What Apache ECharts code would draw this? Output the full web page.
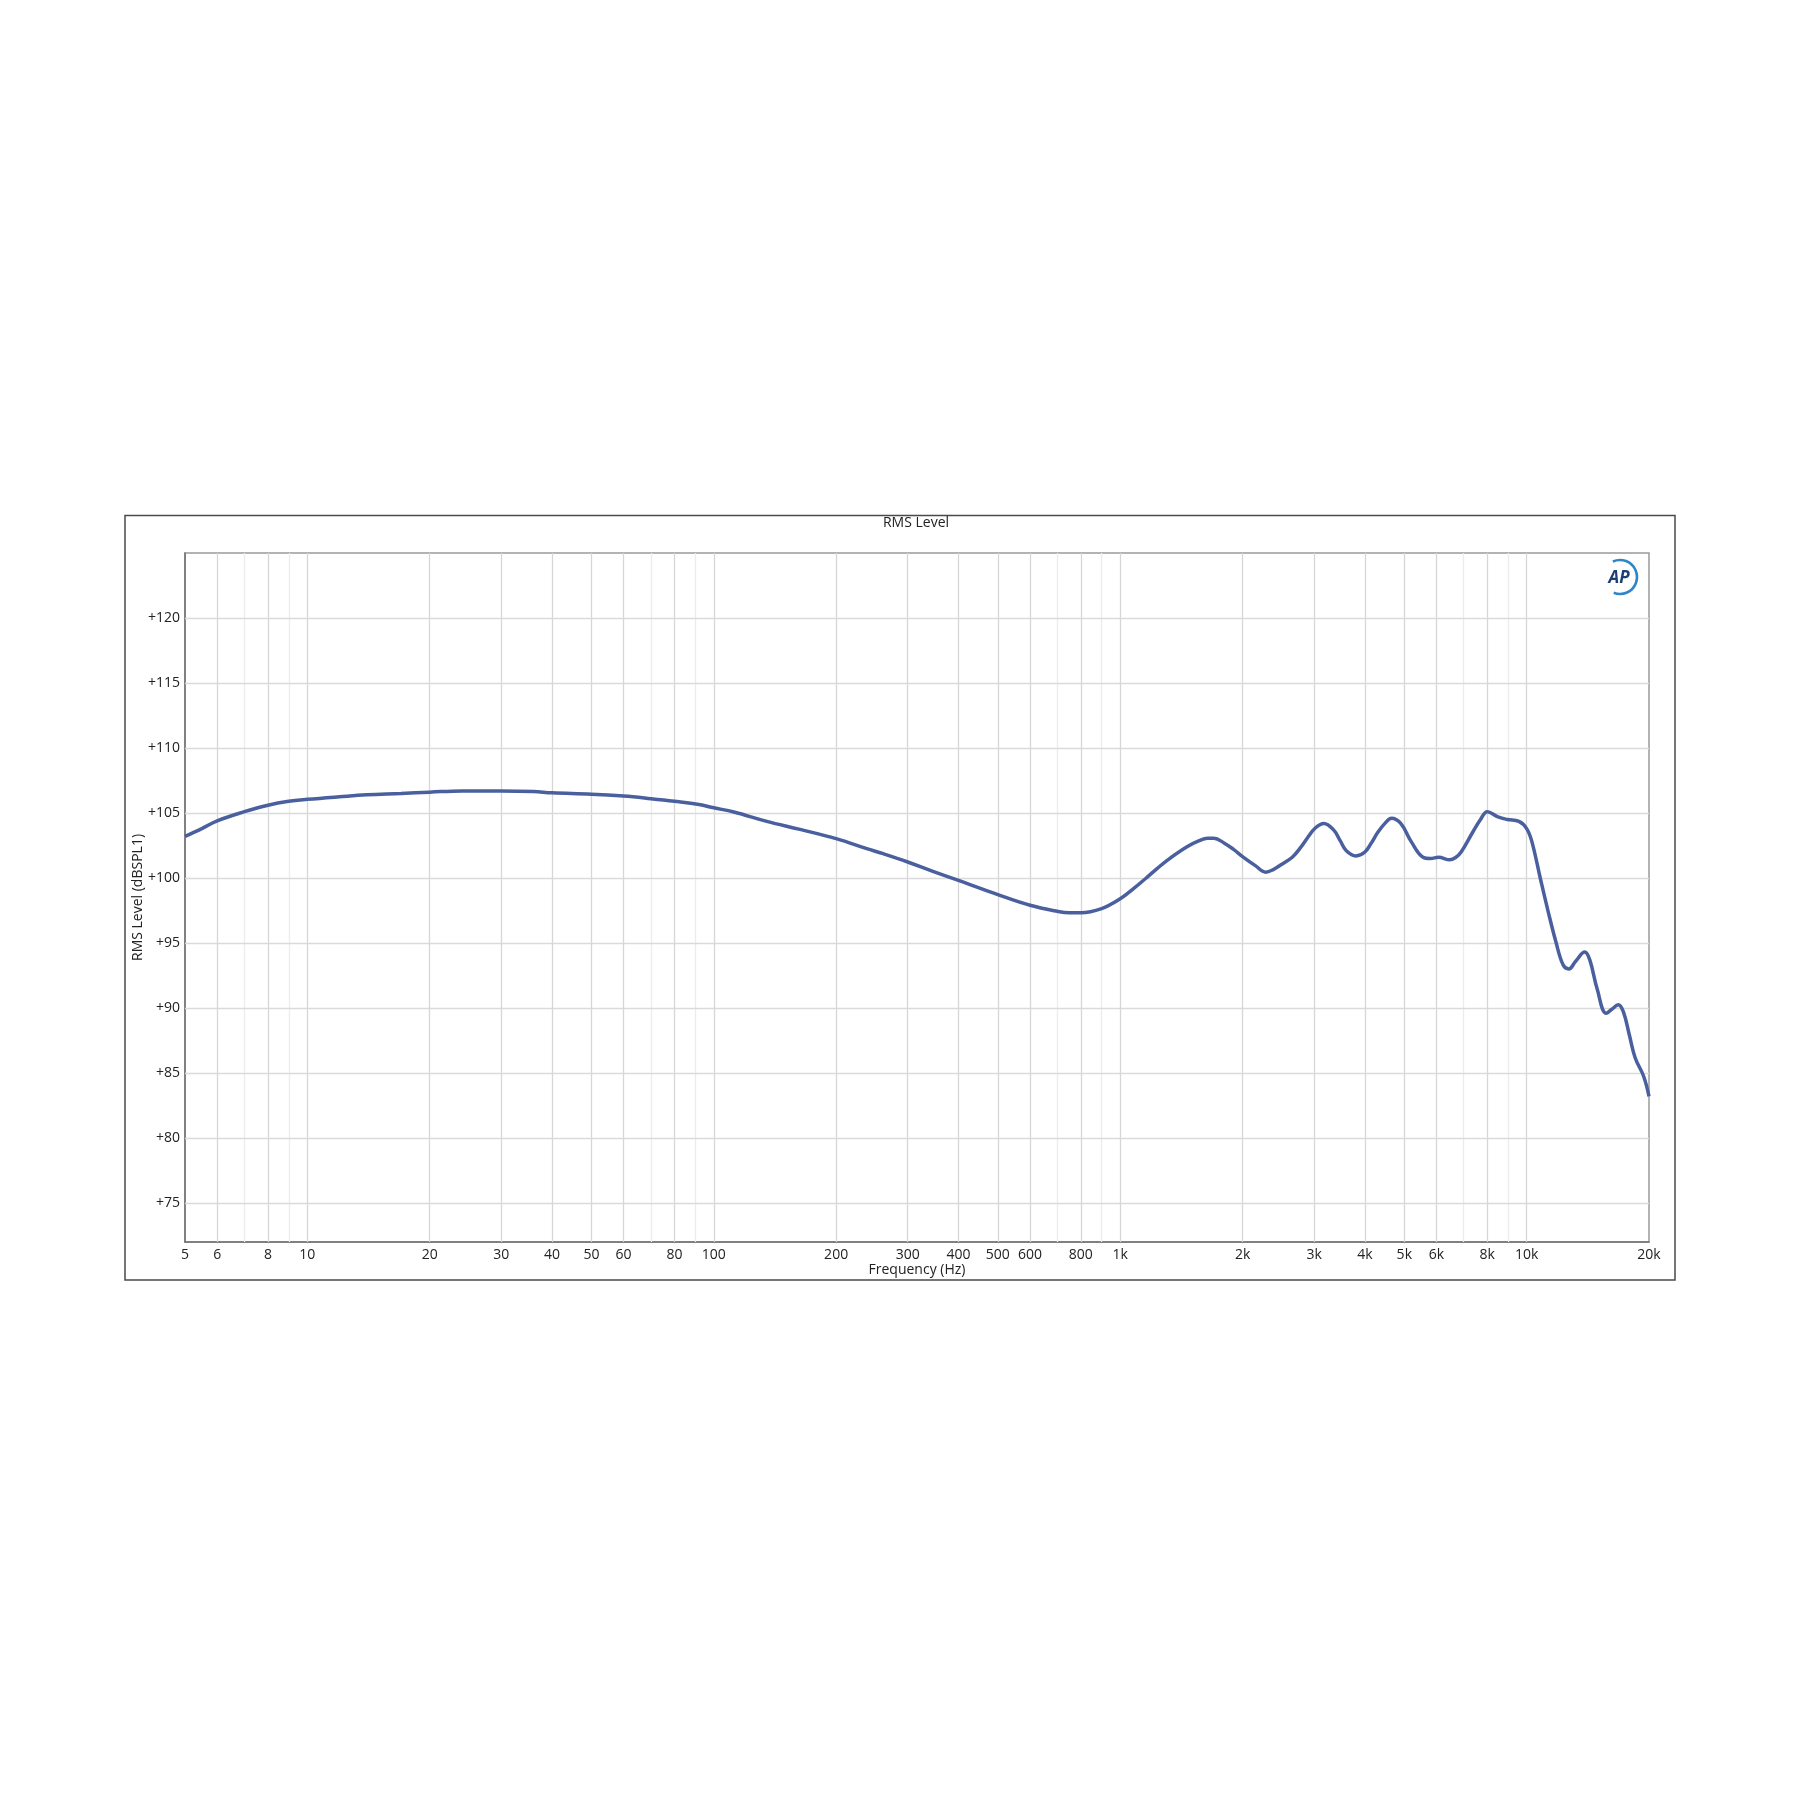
<!DOCTYPE html>
<html>
<head>
<meta charset="utf-8">
<script src="https://cdn.jsdelivr.net/npm/echarts@6/dist/echarts.min.js"></script>
<style>
html,body{margin:0;padding:0;background:#fff;}
#chart{width:1800px;height:1800px;}
</style>
</head>
<body>
<div id="chart"></div>
<script>
// ---- data ----
const freqHz = [5,5.5,6,7,8,9,10,12,14,17,20,24,30,36,40,50,60,70,80,92,100,112,135,163,200,238,261,300,346,400,500,600,700,750,800,900,1000,1080,1155,1230,1310,1460,1560,1640,1700,1800,1900,2000,2150,2280,2380,2480,2650,2780,2890,3020,3170,3350,3480,3600,3800,4000,4150,4300,4480,4650,4900,5200,5560,5800,6070,6470,6700,6900,7360,7700,8000,8500,8960,9570,10000,10300,10800,11300,11800,12300,12700,13200,13900,14300,14900,15700,16200,16800,17300,17900,18500,19400,20000];
const levelDb = [103.2,103.8,104.4,105.1,105.6,105.9,106.05,106.25,106.4,106.5,106.6,106.7,106.7,106.65,106.55,106.45,106.3,106.1,105.9,105.65,105.4,105.08,104.36,103.74,103.03,102.26,101.87,101.23,100.51,99.82,98.72,97.9,97.44,97.33,97.33,97.65,98.4,99.2,99.96,100.7,101.4,102.4,102.85,103.05,103.05,102.7,102.2,101.65,100.95,100.45,100.65,101.0,101.6,102.35,103.1,103.85,104.2,103.7,102.85,102.1,101.7,102.0,102.7,103.5,104.2,104.6,104.2,102.8,101.6,101.5,101.6,101.4,101.6,102.0,103.5,104.5,105.1,104.7,104.5,104.35,103.8,102.8,100.0,97.4,95.1,93.3,93.0,93.6,94.3,93.7,91.5,89.6,89.9,90.25,89.7,87.9,86.15,84.75,83.2];
const xTickLabels = [5,6,8,10,20,30,40,50,60,80,100,200,300,400,500,600,800,1000,2000,3000,4000,5000,6000,8000,10000,20000];
const xMajorGrid = [6,8,10,20,30,40,50,60,80,100,200,300,400,500,600,800,1000,2000,3000,4000,5000,6000,8000,10000];
const xMinorGrid = [7,9,70,90,700,900,7000,9000];
const yTicks = [75,80,85,90,95,100,105,110,115,120];
const yMin = 72, yMax = 125, xMin = 5, xMax = 20000;

const FONT = '"Open Sans", "Liberation Sans", sans-serif';

function fmtFreq(v){
  const r = Number(v.toPrecision(4));
  return r >= 1000 ? (r/1000) + 'k' : String(r);
}

function vLine(v, color){
  return [{coord: [v, yMin], lineStyle: {color: color, width: 1.3, type: 'solid'}}, {coord: [v, yMax]}];
}
function hLine(v, color){
  return [{coord: [xMin, v], lineStyle: {color: color, width: 1.3, type: 'solid'}}, {coord: [xMax, v]}];
}

const gridLines = []
  .concat(xMinorGrid.map(v => vLine(v, '#ececec')))
  .concat(xMajorGrid.map(v => vLine(v, '#d6d6d6')))
  .concat(yTicks.map(v => hLine(v, '#dadada')));

const chart = echarts.init(document.getElementById('chart'), null, {renderer: 'canvas'});
chart.setOption({
  backgroundColor: '#ffffff',
  animation: false,
  grid: {left: 185, top: 553, right: 151, bottom: 558, show: true, borderColor: '#9a9a9a', borderWidth: 1.5, backgroundColor: 'transparent'},
  xAxis: {
    type: 'log', logBase: 10, min: xMin, max: xMax,
    name: 'Frequency (Hz)', nameLocation: 'middle', nameGap: 21, nameMoveOverlap: false,
    nameTextStyle: {fontFamily: FONT, fontSize: 14, color: '#222'},
    axisLine: {show: true, lineStyle: {color: '#707070', width: 1.5}},
    axisTick: {show: false},
    minorTick: {show: false},
    splitLine: {show: false},
    minorSplitLine: {show: false},
    axisLabel: {
      customValues: xTickLabels,
      margin: 6, fontFamily: FONT, fontSize: 14, color: '#222',
      showMinLabel: true, showMaxLabel: true, hideOverlap: false,
      formatter: fmtFreq
    }
  },
  yAxis: {
    type: 'value', min: yMin, max: yMax,
    name: 'RMS Level (dBSPL1)', nameLocation: 'middle', nameGap: 40, nameMoveOverlap: false,
    nameTextStyle: {fontFamily: FONT, fontSize: 14, color: '#222'},
    axisLine: {show: true, lineStyle: {color: '#707070', width: 1.5}},
    axisTick: {show: false},
    splitLine: {show: false},
    axisLabel: {
      customValues: yTicks,
      margin: 5, fontFamily: FONT, fontSize: 14, color: '#222',
      formatter: v => '+' + v
    }
  },
  series: [{
    type: 'line',
    data: freqHz.map((f, i) => [f, levelDb[i]]),
    showSymbol: false,
    smooth: 0.4,
    lineStyle: {color: '#4a5f9e', width: 3.5},
    z: 5,
    markLine: {
      silent: true, symbol: ['none', 'none'], animation: false,
      label: {show: false},
      data: gridLines,
      z: 1
    }
  }],
  graphic: [
    {type: 'rect', shape: {x: 125, y: 515.5, width: 1550, height: 764.5}, style: {fill: 'none', stroke: '#4a4a4a', lineWidth: 1.5}, z: 0},
    {type: 'text', x: 916, y: 523, style: {text: 'RMS Level', fontFamily: FONT, fontSize: 14, fill: '#222', align: 'center', verticalAlign: 'middle'}},
    {type: 'text', x: 1619, y: 578, style: {text: 'AP', fontFamily: FONT, fontSize: 17, fontWeight: 'bold', fontStyle: 'italic', fill: '#1c3e72', align: 'center', verticalAlign: 'middle'}, z: 10},
    {type: 'arc', shape: {cx: 1620, cy: 577, r: 17, startAngle: -2.0, endAngle: 1.95, clockwise: true}, style: {fill: 'none', stroke: '#2d86c6', lineWidth: 2.6}, z: 10}
  ]
});
</script>
</body>
</html>
